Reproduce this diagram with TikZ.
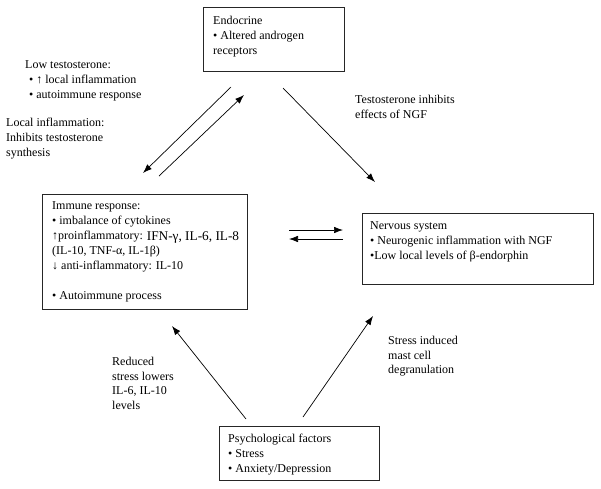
\documentclass[tikz,border=0pt]{standalone}
\usepackage{fontspec}
\setmainfont{Liberation Serif}
\usetikzlibrary{arrows.meta}
\tikzset{
  boxframe/.style={draw=black!85, line width=1pt, inner sep=0pt, anchor=north west},
  txt/.style={inner sep=0pt, anchor=north west, align=left, font=\fontsize{12}{15}\selectfont},
  conn/.style={line width=0.7pt, -{Latex[length=9pt,width=6.5pt]}}
}
\begin{document}
\begin{tikzpicture}[x=1pt,y=-1pt]
\useasboundingbox (0,0) rectangle (601,488);
% boxes
\node[boxframe, minimum width=141pt, minimum height=64pt] (endo) at (203,7) {};
\node[boxframe, minimum width=205pt, minimum height=115pt] (immune) at (42,194) {};
\node[boxframe, minimum width=231pt, minimum height=71pt] (nervous) at (362,213) {};
\node[boxframe, minimum width=160pt, minimum height=54pt] (psych) at (219,426) {};
% box texts
\node[txt] (endotxt) at (213,13.5) {\strut Endocrine\\ • Altered androgen\\ receptors};
\node[txt] (immunetxt) at (52,198.5) {\strut Immune response:\\ • imbalance of cytokines\\ ↑proinflammatory: \raisebox{-1.5pt}{\fontsize{13.3}{15}\selectfont IFN-γ, IL-6, IL-8}\\ (IL-10, TNF-α, IL-1β)\\ ↓ anti-inflammatory: IL-10\\[15pt] • Autoimmune process};
\node[txt] (nervoustxt) at (370,218.5) {\strut Nervous system\\ • Neurogenic inflammation with NGF\\ •Low local levels of β-endorphin};
\node[txt] (psychtxt) at (228,431.5) {\strut Psychological factors\\ • Stress\\ • Anxiety/Depression};
% labels
\node[txt] (lowtesto) at (25,57.5) {\strut Low testosterone:\\ \hspace*{4pt}• ↑ local inflammation\\ \hspace*{4pt}• autoimmune response};
\node[txt] (localinfl) at (6,115.5) {\strut Local inflammation:\\ Inhibits testosterone\\ synthesis};
\node[txt] (testinh) at (355,92.5) {\strut Testosterone inhibits\\ effects of NGF};
\node[txt, font=\fontsize{12}{14.5}\selectfont] (reduced) at (112,355.5) {\strut Reduced\\ stress lowers\\ IL-6, IL-10\\ levels};
\node[txt, font=\fontsize{12}{14.5}\selectfont] (stressind) at (388,334.5) {\strut Stress induced\\ mast cell\\ degranulation};
% connector end points
\coordinate (e1s) at (231,87);  \coordinate (e1e) at (143,173);
\coordinate (i1s) at (159,176); \coordinate (i1e) at (244,95);
\coordinate (e2s) at (283,88);  \coordinate (e2e) at (375,182);
\coordinate (i2s) at (289,230); \coordinate (i2e) at (343,230);
\coordinate (n1s) at (343,239); \coordinate (n1e) at (289,239);
\coordinate (p1s) at (246,419); \coordinate (p1e) at (172,326);
\coordinate (p2s) at (303,417); \coordinate (p2e) at (373,316);
% connectors
\draw[conn] (e1s) -- (e1e);
\draw[conn] (i1s) -- (i1e);
\draw[conn] (e2s) -- (e2e);
\draw[conn] (i2s) -- (i2e);
\draw[conn] (n1s) -- (n1e);
\draw[conn] (p1s) -- (p1e);
\draw[conn] (p2s) -- (p2e);
\end{tikzpicture}
\end{document}
